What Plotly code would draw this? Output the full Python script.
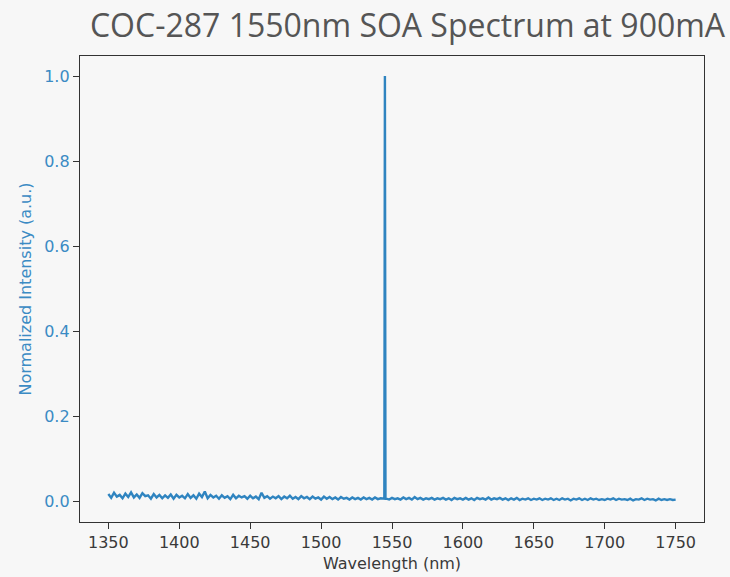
import plotly.graph_objects as go

title_text = "COC-287 1550nm SOA Spectrum at 900mA"
x_label = "Wavelength (nm)"
y_label = "Normalized Intensity (a.u.)"

# wavelengths (nm): 2 nm steps, plus the narrow peak samples near 1545 nm
wavelength_before = list(range(1350, 1545, 2))
peak_wavelength = [1544.6, 1545, 1545.4]
wavelength_after = list(range(1546, 1751, 2))

intensity_before = [
    0.018, 0.009, 0.021, 0.012, 0.016, 0.008, 0.019, 0.011, 0.022, 0.010,
    0.017, 0.009, 0.020, 0.013, 0.015, 0.007, 0.018, 0.010, 0.016, 0.008,
    0.015, 0.009, 0.017, 0.007, 0.016, 0.010, 0.014, 0.008, 0.018, 0.009,
    0.015, 0.007, 0.019, 0.011, 0.024, 0.008, 0.016, 0.010, 0.014, 0.007,
    0.015, 0.009, 0.013, 0.006, 0.016, 0.008, 0.014, 0.010, 0.013, 0.007,
    0.014, 0.008, 0.012, 0.006, 0.021, 0.009, 0.013, 0.007, 0.012, 0.008,
    0.013, 0.006, 0.012, 0.008, 0.014, 0.007, 0.011, 0.006, 0.013, 0.008,
    0.011, 0.006, 0.012, 0.007, 0.010, 0.005, 0.012, 0.007, 0.011, 0.006,
    0.010, 0.005, 0.011, 0.007, 0.009, 0.005, 0.010, 0.006, 0.009, 0.005,
    0.010, 0.006, 0.009, 0.005, 0.010, 0.006, 0.008, 0.006,
]
peak_intensity = [0.007, 1.0, 0.007]
intensity_after = [
    0.007, 0.005, 0.009, 0.006, 0.008, 0.005, 0.010, 0.006, 0.009, 0.005,
    0.011, 0.006, 0.009, 0.005, 0.008, 0.006, 0.009, 0.005, 0.008, 0.006,
    0.009, 0.005, 0.008, 0.004, 0.009, 0.006, 0.008, 0.005, 0.009, 0.005,
    0.008, 0.004, 0.009, 0.006, 0.008, 0.005, 0.010, 0.005, 0.008, 0.006,
    0.009, 0.005, 0.008, 0.004, 0.008, 0.005, 0.009, 0.004, 0.007, 0.005,
    0.008, 0.004, 0.007, 0.005, 0.008, 0.004, 0.007, 0.005, 0.008, 0.004,
    0.007, 0.004, 0.008, 0.005, 0.007, 0.003, 0.007, 0.005, 0.008, 0.004,
    0.007, 0.004, 0.008, 0.005, 0.007, 0.004, 0.006, 0.004, 0.007, 0.005,
    0.008, 0.004, 0.007, 0.005, 0.006, 0.004, 0.007, 0.003, 0.006, 0.005,
    0.008, 0.004, 0.007, 0.005, 0.006, 0.003, 0.007, 0.004, 0.006, 0.004,
    0.006, 0.004, 0.005,
]

x_ticks = [1350, 1400, 1450, 1500, 1550, 1600, 1650, 1700, 1750]
y_ticks = [0.0, 0.2, 0.4, 0.6, 0.8, 1.0]

wavelength = wavelength_before + peak_wavelength + wavelength_after
intensity = intensity_before + peak_intensity + intensity_after

line_color = "#2f84c0"
blue_text = "#3b8bc4"
dark_text = "#3a3a3a"
bg = "#f7f7f7"

fig = go.Figure()
fig.add_trace(go.Scatter(
    x=wavelength, y=intensity, mode="lines",
    line=dict(color=line_color, width=2.4),
    showlegend=False,
))

fig.update_layout(
    width=730, height=577,
    paper_bgcolor=bg, plot_bgcolor=bg,
    margin=dict(l=80, r=26, t=56, b=55),
    title=dict(
        text=title_text, x=407.5 / 730, xanchor="center", xref="container",
        y=1 - 26 / 577, yanchor="middle", yref="container",
        font=dict(family="Open Sans", size=32, color="#555555"),
    ),
    font=dict(family="DejaVu Sans"),
)

fig.update_xaxes(
    range=[1330, 1770], tickvals=x_ticks, automargin=False,
    ticks="outside", ticklen=6, tickwidth=1.2, tickcolor="#333333",
    tickfont=dict(family="DejaVu Sans", size=16, color=dark_text),
    showline=True, linecolor="#333333", linewidth=1.3, mirror=True,
    showgrid=False, zeroline=False,
    title=dict(text=x_label, font=dict(family="DejaVu Sans", size=16, color=dark_text), standoff=6),
)
fig.update_yaxes(
    range=[-0.0477, 1.047], tickvals=y_ticks, tickformat=".1f", automargin=False,
    ticks="outside", ticklen=6, tickwidth=1.2, tickcolor="#333333",
    tickfont=dict(family="DejaVu Sans", size=16, color=blue_text),
    showline=True, linecolor="#333333", linewidth=1.3, mirror=True,
    showgrid=False, zeroline=False,
    title=dict(text=y_label, font=dict(family="DejaVu Sans", size=16, color=blue_text), standoff=8),
)

fig.write_html(
    "out.html",
    config={"displayModeBar": False},
    post_script="document.body.style.margin='0';document.body.style.background='#f7f7f7';document.body.style.overflow='hidden';",
)
